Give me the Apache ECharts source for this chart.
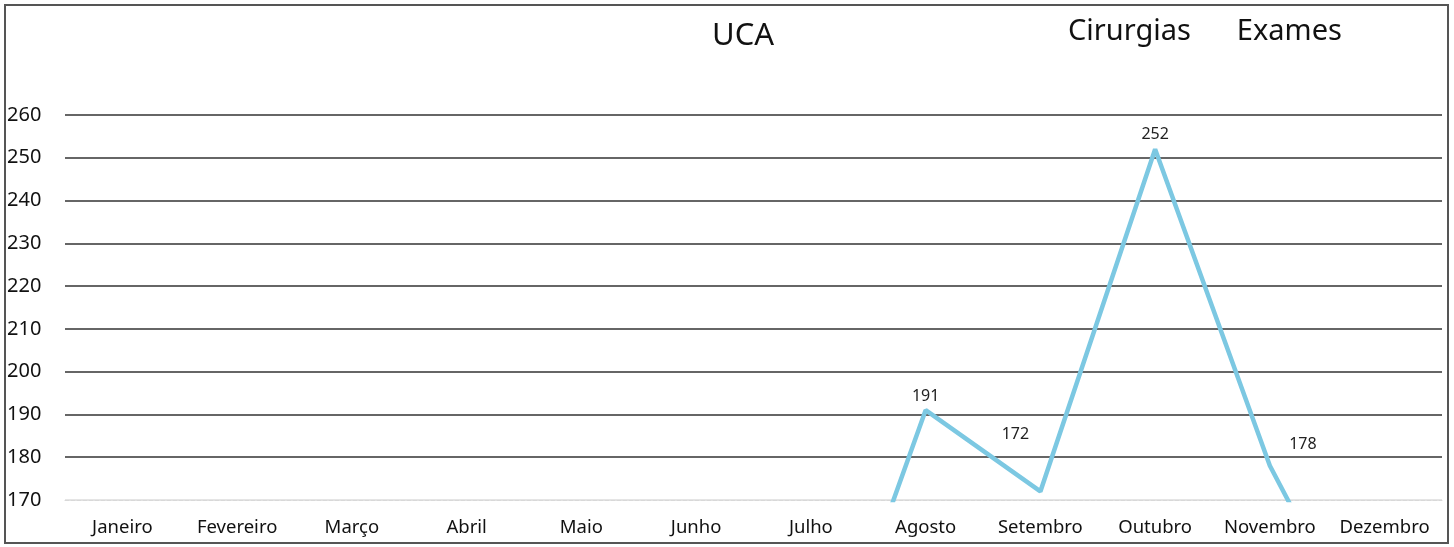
<!DOCTYPE html>
<html>
<head>
<meta charset="utf-8">
<script src="https://cdn.jsdelivr.net/npm/echarts@6/dist/echarts.min.js"></script>
<style>
html,body{margin:0;padding:0;background:#fff;}
#chart{width:1454px;height:547px;}
</style>
</head>
<body>
<div id="chart"></div>
<script>
const titleText = 'UCA';
const categories = ['Janeiro','Fevereiro','Março','Abril','Maio','Junho','Julho','Agosto','Setembro','Outubro','Novembro','Dezembro'];
const seriesNames = ['Cirurgias','Exames'];
const cirurgiasValues = [null,null,null,null,null,null,116,191,172,252,178,127];
const examesValues = [];
const yTicks = [170,180,190,200,210,220,230,240,250,260];

const FONT = '"Noto Sans", "Open Sans", sans-serif';
const LABEL_TEXT = {fontFamily:FONT, fontSize:16, color:'#222'};

// label placement per category (style only)
const labelStyle = {
  7: {show:true, position:'top', offset:[0,-1]},
  8: {show:true, position:'top', offset:[-25,-44]},
  9: {show:true, position:'top', offset:[0,-2]},
  10:{show:true, position:'top', offset:[33,-8]}
};

const lineData = cirurgiasValues.map((v,i)=>({
  value: v,
  label: labelStyle[i] ? Object.assign({}, LABEL_TEXT, labelStyle[i]) : {show:false}
}));

const chart = echarts.init(document.getElementById('chart'));
chart.setOption({
  backgroundColor:'#fff',
  animation:false,
  title:{
    text:titleText, left:707, top:16,
    textStyle:{fontFamily:FONT, fontSize:31, fontWeight:'normal', color:'#111'}
  },
  legend:{
    data:seriesNames, left:1058, top:12, icon:'none', itemWidth:0, itemGap:41,
    textStyle:{fontFamily:FONT, fontSize:29, color:'#111', padding:0}
  },
  graphic:[{
    type:'rect', shape:{x:5,y:5,width:1443,height:538},
    style:{fill:'none', stroke:'#555', lineWidth:2}, silent:true
  }],
  grid:{left:65, right:12, top:115, bottom:47, containLabel:false},
  xAxis:{
    type:'category', data:categories, boundaryGap:true,
    axisLine:{show:true, lineStyle:{color:'#d8d8d8', type:'dashed', width:1}},
    axisTick:{show:false},
    axisLabel:{fontFamily:FONT, fontSize:18.5, color:'#111', margin:18, interval:0}
  },
  yAxis:{
    type:'value', min:yTicks[0], max:yTicks[yTicks.length-1], interval:10,
    axisLine:{show:false}, axisTick:{show:false},
    axisLabel:{fontFamily:FONT, fontSize:20, color:'#111', align:'left', margin:58},
    splitLine:{show:true, lineStyle:{color:['#dddddd','#333','#333','#333','#333','#333','#333','#333','#333','#333'], width:1.6}}
  },
  series:[
    {
      name:seriesNames[0], type:'line', data:lineData, showSymbol:true, symbol:'circle', symbolSize:0,
      clip:true, connectNulls:false,
      lineStyle:{color:'#7cc8e2', width:4.5},
      itemStyle:{color:'#7cc8e2'},
      label:LABEL_TEXT
    },
    {
      name:seriesNames[1], type:'line', data:examesValues, showSymbol:false,
      lineStyle:{color:'#e07b39', width:4}, itemStyle:{color:'#e07b39'}
    }
  ]
});
</script>
</body>
</html>
